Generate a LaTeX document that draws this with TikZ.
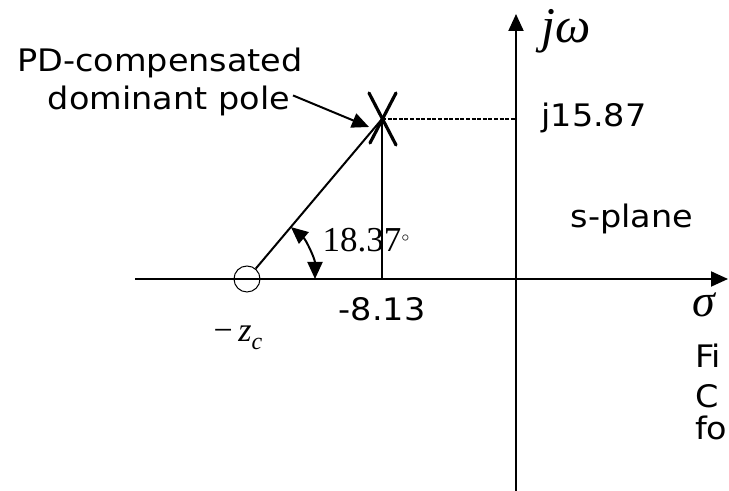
\documentclass[tikz,border=0pt]{standalone}
\usepackage{fontspec}
\setmainfont{Liberation Serif}
\newfontfamily\gulim[FakeStretch=1.08]{DejaVu Sans}
\usetikzlibrary{arrows.meta}

\begin{document}
\begin{tikzpicture}[x=0.5pt,y=0.5pt,>={Triangle[length=8.5pt,width=7.5pt]},line width=1pt]
  \tikzstyle{lbl}=[font=\gulim\fontsize{15.5}{18}\selectfont, inner sep=1pt]
  \tikzstyle{sym}=[font=\itshape\fontsize{25}{28}\selectfont, inner sep=0pt]
  \tikzstyle{cross}=[line width=1.6pt, line cap=round]

  \useasboundingbox (0,0) rectangle (729,491);

  \coordinate (orig) at (516,212);
  \coordinate (ybot) at (516,0);
  \coordinate (ytop) at (516,477);
  \coordinate (xlft) at (135,212);
  \coordinate (xrgt) at (728,212);
  \coordinate (pole) at (382,372);
  \coordinate (foot) at (382,212);
  \coordinate (jax) at (516,372);
  \coordinate (tip) at (369,364);

  \draw[->] (ybot) -- (ytop);
  \draw[->] (xlft) -- (xrgt);

  \node[draw, circle, minimum size=13pt, inner sep=0pt, line width=0.5pt] (zero) at (247,212) {};

  \draw (zero) -- (pole);
  \draw (pole) -- (foot);
  \draw[line width=1.3pt, dash pattern=on 2pt off 0.8pt] (pole) -- (jax);
  \draw[cross] (369,398) -- (396,346);
  \draw[cross] (396,398) -- (370,348);

  \draw[<->] ([shift={(49.8:68)}]247,212) arc[start angle=49.8, end angle=0, radius=68];

  \node[lbl, anchor=base] (lbltop) at (160,419) {PD-compensated};
  \node[lbl, anchor=base] (lblbot) at (169,381) {dominant pole};
  \draw[->] ([yshift=3pt]lblbot.east) -- (tip);

  \node[font=\fontsize{17.5}{20}\selectfont, inner sep=0pt] (ang) at (366,251) {18.37\raisebox{5pt}{\scriptsize$\circ$}};
  \node[lbl] (re) at (382,182) {-8.13};
  \node[lbl] (im) at (594,373) {j15.87};
  \node[lbl] (plane) at (632,272) {s-plane};
  \node[sym] (jw) at (566,460) {jω};
  \node[sym, font=\itshape\fontsize{23}{26}\selectfont] (sig) at (704,186) {σ};
  \node[font=\fontsize{17}{20}\selectfont, inner sep=0pt] (zc) at (238,153) {−\,\textit{z}\raisebox{-4pt}{\fontsize{12}{12}\selectfont\textit{c}}};

  \node[lbl, anchor=base west] (cap1) at (692,123) {Fi};
  \node[lbl, anchor=base west] (cap2) at (692,83) {C};
  \node[lbl, anchor=base west] (cap3) at (692,51) {fo};
\end{tikzpicture}
\end{document}
